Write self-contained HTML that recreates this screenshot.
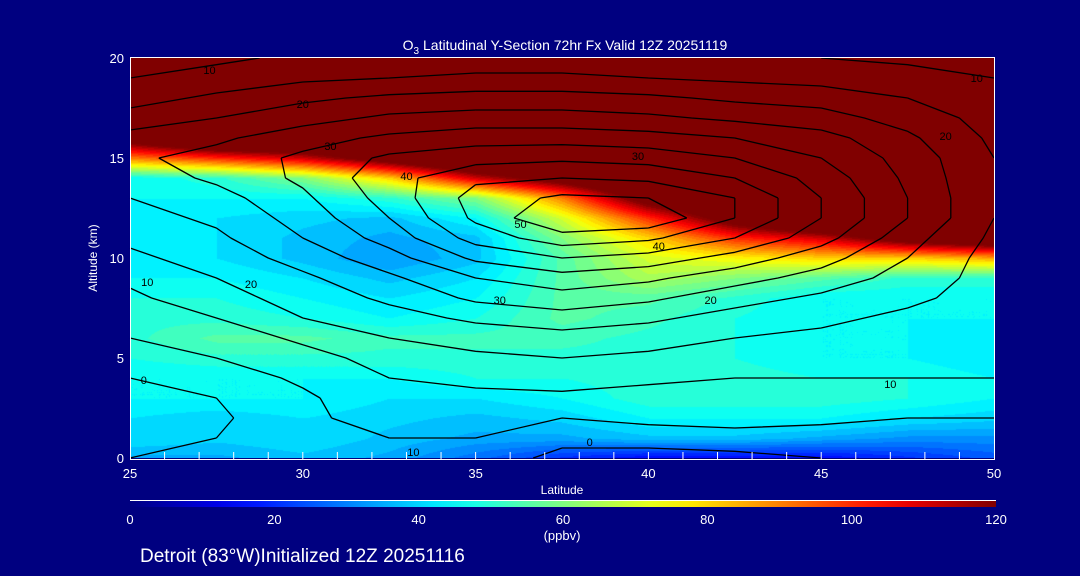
<!DOCTYPE html>
<html><head><meta charset="utf-8">
<style>
html,body{margin:0;padding:0;background:#000080;}
#wrap{position:relative;width:1080px;height:576px;background:#000080;overflow:hidden;font-family:"Liberation Sans",sans-serif;color:#fff;}
canvas{position:absolute;left:130px;top:58px;}
svg{position:absolute;left:0;top:0;}
</style></head>
<body>
<div id="wrap">
<canvas id="field" width="864" height="400"></canvas>
<svg id="svg" width="1080" height="576">
<defs><linearGradient id="cbar" x1="0" x2="1" y1="0" y2="0"></linearGradient></defs>
<g id="contours"></g>
<g id="axes"></g>
<text x="565" y="50" text-anchor="middle" font-size="14" fill="#fff">O<tspan font-size="10" dy="4">3</tspan><tspan dy="-4"> Latitudinal Y-Section 72hr  Fx Valid 12Z 20251119</tspan></text>
<text x="97" y="258" text-anchor="middle" font-size="12" fill="#fff" transform="rotate(-90 97 258)">Altitude (km)</text>
<text x="562" y="494" text-anchor="middle" font-size="12" fill="#fff">Latitude</text>
<rect x="130" y="501" width="866" height="6" fill="url(#cbar)"/>
<line x1="130" y1="500.5" x2="996" y2="500.5" stroke="#fff" stroke-width="1"/>
<g id="cbticks"></g>
<text x="562" y="540" text-anchor="middle" font-size="13" fill="#fff">(ppbv)</text>
<text x="140" y="562" font-size="19" fill="#fff">Detroit (83°W)Initialized 12Z 20251116</text>
</svg>
</div>
<script>
// ---- data ----
const lats = [25, 27.5, 30, 32.5, 35, 37.5, 40, 42.5, 45, 47.5, 50];
const alts = [0,1,2,3,4,5,6,7,8,9,10,11,12,13,14,15,16,17,18,19,20];
const ozone = [
 [35,35,38,35,28,20,15,15,15,20,25],
 [42,40,42,38,35,35,38,38,35,32,32],
 [42,40,42,40,38,40,45,45,45,42,40],
 [45,45,45,42,42,45,50,50,50,48,45],
 [45,45,45,45,48,48,50,50,48,48,45],
 [48,50,50,50,50,50,50,48,45,45,42],
 [50,55,55,52,52,52,50,48,45,45,42],
 [50,50,48,45,48,55,52,48,45,45,45],
 [48,48,45,42,45,55,55,50,45,45,45],
 [45,45,42,38,42,55,65,60,55,50,50],
 [45,42,38,33,38,55,70,75,80,80,85],
 [45,42,38,35,38,60,80,100,110,130,140],
 [45,42,40,38,45,70,100,130,150,150,150],
 [45,45,45,50,60,90,130,150,150,150,150],
 [45,50,60,80,110,130,150,150,150,150,150],
 [90,100,110,130,150,150,150,150,150,150,150],
 [130,150,150,150,150,150,150,150,150,150,150],
 [150,150,150,150,150,150,150,150,150,150,150],
 [150,150,150,150,150,150,150,150,150,150,150],
 [150,150,150,150,150,150,150,150,150,150,150],
 [150,150,150,150,150,150,150,150,150,150,150]
];
const cfield = [
 [0,2,4,4,4,-2,-3,-2,0,2,2],
 [-3,0,4,5,5,2,3,4,3,3,3],
 [-4,-1,4,7,6,5,6,6,6,5,5],
 [-2,0,4,9,9,9,8,8,8,7,7],
 [0,2,6,10,11,12,11,10,10,10,10],
 [4,5,8,12,14,15,14,13,12,12,11],
 [5,7,11,15,17,18,17,15,14,13,12],
 [7,10,15,18,21,23,21,18,16,14,13],
 [9,13,17,21,26,28,26,22,19,16,13],
 [11,15,19,24,30,33,31,27,23,18,13],
 [14,17,22,28,36,40,38,33,27,20,13],
 [16,19,25,32,42,48,46,40,32,22,14],
 [18,21,27,35,46,55,54,45,35,25,15],
 [20,23,29,37,47,51,50,45,35,25,15],
 [22,26,31,38,44,45,44,40,33,24,15],
 [24,27,31,36,38,39,38,35,30,23,15],
 [22,24,28,31,33,33,32,30,27,21,14],
 [17,20,23,26,27,27,26,24,22,18,13],
 [13,16,19,21,22,22,21,19,18,15,12],
 [10,12,14,15,16,16,15,14,13,12,10],
 [7,9,11,12,12,12,12,11,10,9,8]
];
const contourLevels = [-5,0,5,10,15,20,25,30,35,40,45,50];
const contourLabels = [[27.3,19.4,10],[30,17.7,20],[30.8,15.6,30],[33,14.1,40],[36.3,11.7,50],[35.7,7.9,30],[41.8,7.9,20],[28.5,8.7,20],[25.5,8.8,10],[25.4,3.9,0],[47,3.7,10],[33.2,0.3,10],[38.3,0.8,0],[40.3,10.6,40],[39.7,15.1,30],[48.6,16.1,20],[49.5,19,10]];
const xTicks = [25,30,35,40,45,50];
const yTicks = [0,5,10,15,20];
const cbTicks = [0,20,40,60,80,100,120];

// ---- scales ----
const X0=130,X1=994,Y0=458,Y1=58;
const xs = v => X0 + (v-25)/25*(X1-X0);
const ys = v => Y0 - v/20*(Y0-Y1);
const cbx = v => 130 + v/120*866;
function jet(t){t=Math.max(0,Math.min(1,t));const c=x=>Math.round(255*Math.max(0,Math.min(1,x)));
 return [c(1.5-Math.abs(4*t-3)),c(1.5-Math.abs(4*t-2)),c(1.5-Math.abs(4*t-1))];}
function bil(grid,la,al){
 let fi=(la-25)/2.5, fj=al;
 let i=Math.min(Math.floor(fi),lats.length-2), j=Math.min(Math.floor(fj),alts.length-2);
 i=Math.max(0,i); j=Math.max(0,j);
 const u=fi-i, v=fj-j;
 return grid[j][i]*(1-u)*(1-v)+grid[j][i+1]*u*(1-v)+grid[j+1][i]*(1-u)*v+grid[j+1][i+1]*u*v;
}
// ---- field ----
const cv=document.getElementById('field'),ctx=cv.getContext('2d');
const img=ctx.createImageData(864,400);
for(let py=0;py<400;py++){const al=20-py/400*20;
 for(let px=0;px<864;px++){const la=25+px/864*25;
  let v=bil(ozone,la,al); v=Math.floor(v/3)*3+1.5;
  const c=jet(v/120); const k=(py*864+px)*4;
  img.data[k]=c[0];img.data[k+1]=c[1];img.data[k+2]=c[2];img.data[k+3]=255;}}
ctx.putImageData(img,0,0);
// ---- colorbar ----
const grad=document.getElementById('cbar');
for(let s=0;s<=20;s++){const c=jet(s/20);const st=document.createElementNS('http://www.w3.org/2000/svg','stop');
 st.setAttribute('offset',(s*5)+'%');st.setAttribute('stop-color','rgb('+c.join(',')+')');grad.appendChild(st);}
const NS='http://www.w3.org/2000/svg';
function mk(tag,attrs,parent){const e=document.createElementNS(NS,tag);for(const k in attrs)e.setAttribute(k,attrs[k]);parent.appendChild(e);return e;}
const cbg=document.getElementById('cbticks');
cbTicks.forEach(v=>{const t=mk('text',{x:cbx(v),y:524,'text-anchor':'middle','font-size':13,fill:'#fff'},cbg);
 
 
 t.textContent=v;});
// ---- contours (marching squares) ----
const cg=document.getElementById('contours');
contourLevels.forEach(L=>{
 let d='';
 for(let j=0;j<alts.length-1;j++)for(let i=0;i<lats.length-1;i++){
  const c=[[i,j],[i+1,j],[i+1,j+1],[i,j+1]];
  const vals=c.map(p=>cfield[p[1]][p[0]]);
  const pts=[];
  for(let e=0;e<4;e++){const a=vals[e],b=vals[(e+1)%4];
   if((a<L)!==(b<L)){const t=(L-a)/(b-a);const p=c[e],q=c[(e+1)%4];
    pts.push([xs(lats[p[0]]+(lats[q[0]]-lats[p[0]])*t),ys(alts[p[1]]+(alts[q[1]]-alts[p[1]])*t)]);}}
  for(let k=0;k+1<pts.length;k+=2)d+='M'+pts[k][0].toFixed(1)+' '+pts[k][1].toFixed(1)+'L'+pts[k+1][0].toFixed(1)+' '+pts[k+1][1].toFixed(1);
 }
 const p=mk('path',{d:d,stroke:'#000',fill:'none','stroke-width':1.3},cg);
 if(L<0)p.setAttribute('stroke-dasharray','2 3');
 
 
});
contourLabels.forEach(l=>{
 const t=mk('text',{x:xs(l[0]),y:ys(l[1])+4,'text-anchor':'middle','font-size':11,fill:'#000'},cg);
 
 
 t.textContent=l[2];});
// ---- axes ----
const ag=document.getElementById('axes');
const fr=mk('rect',{x:X0+0.5,y:Y1-0.5,width:X1-X0,height:Y0-Y1+2,fill:'none',stroke:'#fff','stroke-width':1},ag);


for(let la=26;la<50;la++){const tk=mk('line',{x1:xs(la),x2:xs(la),y1:460,y2:452,stroke:'#fff'},ag);
 
 }
xTicks.forEach(v=>{const t=mk('text',{x:xs(v),y:478,'text-anchor':'middle','font-size':13,fill:'#fff'},ag);
 
 
 t.textContent=v;});
yTicks.forEach(v=>{const t=mk('text',{x:124,y:ys(v)+5,'text-anchor':'end','font-size':13,fill:'#fff'},ag);
 
 
 t.textContent=v;});
</script>
</body></html>
